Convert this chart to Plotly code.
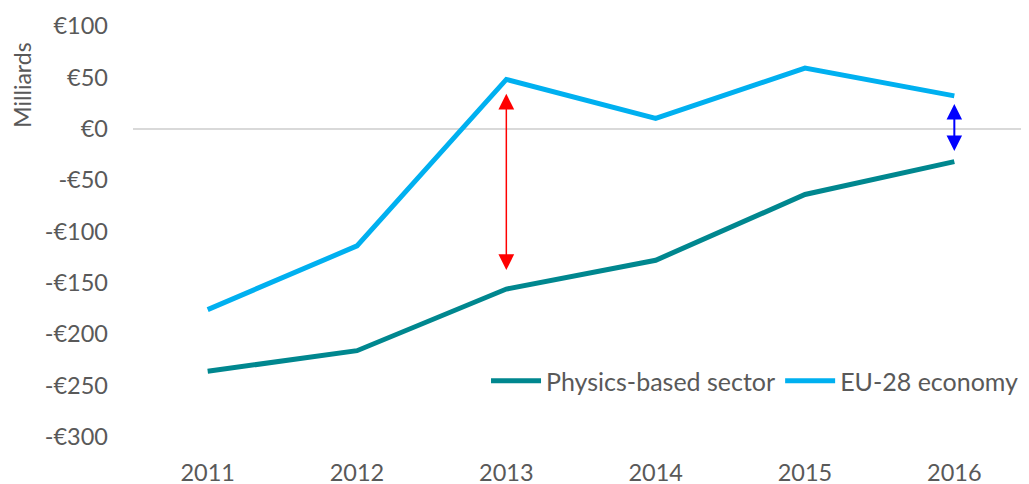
import plotly.graph_objects as go

years = [2011, 2012, 2013, 2014, 2015, 2016]
physics = [-236, -216, -156, -128, -64, -32]
eu28 = [-176, -114, 48, 10, 59, 32]
ytick_vals = [100, 50, 0, -50, -100, -150, -200, -250, -300]
ytick_text = ["€100", "€50", "€0", "-€50", "-€100", "-€150", "-€200", "-€250", "-€300"]

FONT = "Lato"
GRAY = "#595959"
TICK = 23.5

fig = go.Figure()
fig.add_trace(go.Scatter(x=years, y=physics, mode="lines", name="Physics-based sector",
                         line=dict(color="#00878F", width=5)))
fig.add_trace(go.Scatter(x=years, y=eu28, mode="lines", name="EU-28 economy",
                         line=dict(color="#00B0F0", width=5)))

# double-headed arrows
fig.add_annotation(x=2013, y=34, ax=2013, ay=-139, xref="x", yref="y", axref="x", ayref="y",
                   showarrow=True, arrowhead=2, startarrowhead=2, arrowside="end+start",
                   arrowsize=2.1, startarrowsize=2.1, arrowwidth=1.5, arrowcolor="#FF0000", text="")
fig.add_annotation(x=2016, y=24, ax=2016, ay=-23, xref="x", yref="y", axref="x", ayref="y",
                   showarrow=True, arrowhead=2, startarrowhead=2, arrowside="end+start",
                   arrowsize=1.55, startarrowsize=1.55, arrowwidth=2, arrowcolor="#0000FF", text="")

fig.add_annotation(text="Milliards", xref="paper", yref="paper", x=-0.124, y=0.857,
                   textangle=-90, showarrow=False, xanchor="center", yanchor="middle",
                   font=dict(family=FONT, size=23, color=GRAY))

# the page adds an 8px body margin, so the figure is 8px smaller and margins shifted
fig.update_layout(
    width=1021, height=476,
    margin=dict(l=125, r=0, t=18, b=47, autoexpand=False),
    paper_bgcolor="white", plot_bgcolor="white",
    font=dict(family=FONT, size=TICK, color=GRAY),
    showlegend=True,
    legend=dict(orientation="h", x=0.394, xanchor="left", y=0.136, yanchor="middle",
                font=dict(family=FONT, size=25, color=GRAY), bgcolor="rgba(0,0,0,0)",
                itemwidth=50, tracegroupgap=0, borderwidth=0),
    xaxis=dict(range=[2010.5, 2016.5], tickvals=years, ticktext=[str(y) for y in years],
               showgrid=False, zeroline=False, showline=False, ticks="", automargin=False,
               ticklabelstandoff=19,
               tickfont=dict(family=FONT, size=TICK, color=GRAY)),
    yaxis=dict(range=[-300, 100], tickvals=ytick_vals, ticktext=ytick_text,
               showgrid=False, zeroline=True, zerolinecolor="#D9D9D9", zerolinewidth=1.5,
               showline=False, ticks="", automargin=False, ticklabelstandoff=24,
               tickfont=dict(family=FONT, size=TICK, color=GRAY)),
)

fig.write_html("out.html")
